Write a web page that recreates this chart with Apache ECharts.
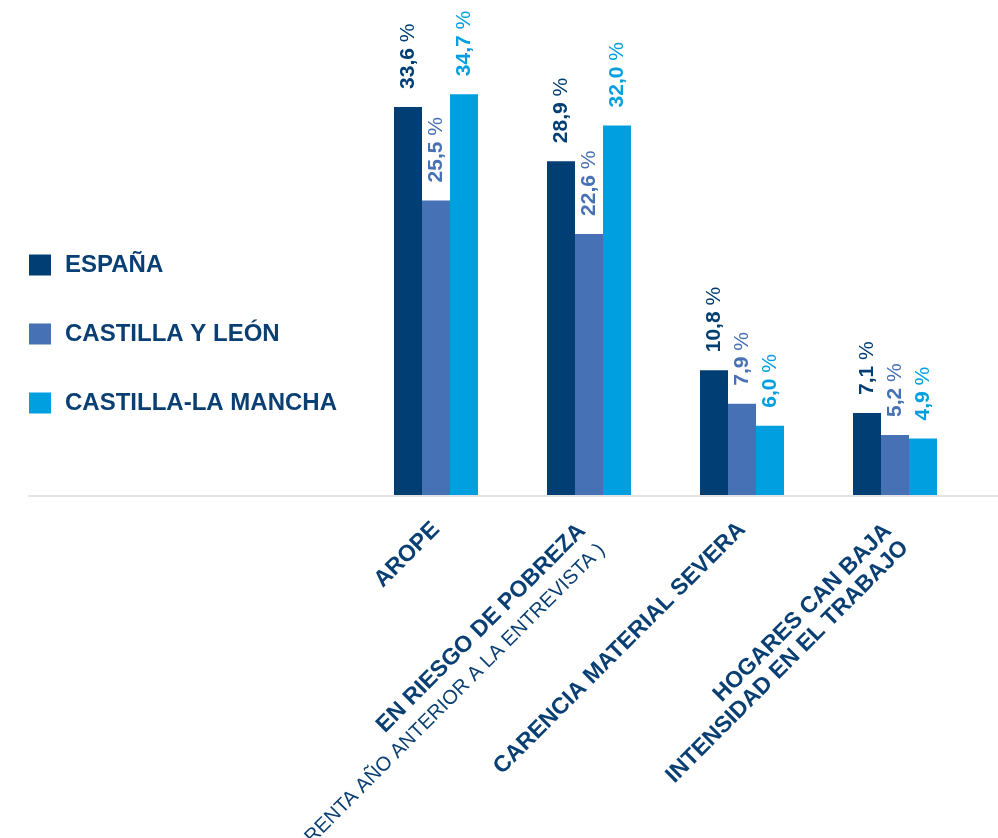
<!DOCTYPE html>
<html>
<head>
<meta charset="utf-8">
<script src="https://cdn.jsdelivr.net/npm/echarts@6/dist/echarts.min.js"></script>
<style>
html,body{margin:0;padding:0;background:#fff;}
#chart{width:998px;height:838px;}
</style>
</head>
<body>
<div id="chart"></div>
<script>
const categories = [
  'AROPE',
  'EN RIESGO DE POBREZA\n( RENTA AÑO ANTERIOR A LA ENTREVISTA )',
  'CARENCIA MATERIAL SEVERA',
  'HOGARES CAN BAJA\nINTENSIDAD EN EL TRABAJO'
];
const seriesNames = ['ESPAÑA', 'CASTILLA Y LEÓN', 'CASTILLA-LA MANCHA'];
const espana = [33.6, 28.9, 10.8, 7.1];
const castillaLeon = [25.5, 22.6, 7.9, 5.2];
const castillaMancha = [34.7, 32.0, 6.0, 4.9];
const colors = ['#003e73', '#4771b5', '#009fe0'];
const navy = '#0a3f73';
const FONT = '"Liberation Sans", Arial, Helvetica, sans-serif';

function valueLabel(color) {
  return {
    show: true,
    position: 'top',
    rotate: 90,
    align: 'left',
    verticalAlign: 'middle',
    distance: 18,
    formatter: p => '{n|' + p.value.toFixed(1).replace('.', ',') + '}{p| %}',
    rich: {
      n: { fontFamily: FONT, fontSize: 21, fontWeight: 'bold', color: color },
      p: { fontFamily: FONT, fontSize: 21, fontWeight: 'normal', color: color }
    }
  };
}

// per-label styling for multi-line category labels (first line kept where a single line sits)
const multiLineStyles = {
  1: { padding: [20, 6, 0, 0] },
  3: { padding: [16, 6, 0, 0], rich: { b: { lineHeight: 24 }, s: { lineHeight: 24 } } }
};
const categoryData = categories.map((c, i) => multiLineStyles[i]
  ? { value: c, textStyle: multiLineStyles[i] }
  : c);

const chart = echarts.init(document.getElementById('chart'), null, { renderer: 'canvas' });
chart.setOption({
  animation: false,
  color: colors,
  grid: [
    { left: 359.5, right: 26.5, top: 33, bottom: 343, outerBoundsMode: 'none', containLabel: false },
    { left: 29, right: 0, top: 33, bottom: 342, outerBoundsMode: 'none', containLabel: false }
  ],
  legend: {
    orient: 'vertical',
    left: 29,
    top: 253,
    itemWidth: 22,
    itemHeight: 21,
    itemGap: 45,
    icon: 'rect',
    padding: 0,
    data: seriesNames,
    textStyle: {
      fontFamily: FONT,
      fontSize: 24,
      fontWeight: 'bold',
      color: navy,
      padding: [0, 0, 0, 9]
    }
  },
  xAxis: [
    {
      type: 'category',
      gridIndex: 0,
      data: categoryData,
      axisLine: { show: false },
      axisTick: { show: false },
      axisLabel: {
        interval: 0,
        rotate: 45,
        margin: 31,
        formatter: function (v) {
          return v.split('\n').map(l => l.charAt(0) === '(' ? '{s|' + l + '}' : '{b|' + l + '}').join('\n');
        },
        rich: {
          b: { fontFamily: FONT, fontSize: 23, fontWeight: 'bold', color: navy, lineHeight: 28 },
          s: { fontFamily: FONT, fontSize: 20, fontWeight: 'normal', color: navy, lineHeight: 28 }
        }
      }
    },
    {
      type: 'value',
      gridIndex: 1,
      min: 0,
      max: 1,
      axisLine: { show: true, lineStyle: { color: '#e3e3e3', width: 2 } },
      axisTick: { show: false },
      axisLabel: { show: false },
      splitLine: { show: false }
    }
  ],
  yAxis: [
    { type: 'value', gridIndex: 0, min: 0, max: 40, show: false, splitLine: { show: false } },
    { type: 'value', gridIndex: 1, min: 0, max: 1, show: false, splitLine: { show: false } }
  ],
  series: [
    { name: seriesNames[0], type: 'bar', xAxisIndex: 0, yAxisIndex: 0, data: espana, barWidth: 28, barGap: '0%', z: 3, label: valueLabel(colors[0]) },
    { name: seriesNames[1], type: 'bar', xAxisIndex: 0, yAxisIndex: 0, data: castillaLeon, barWidth: 28, barGap: '0%', z: 3, label: valueLabel(colors[1]) },
    { name: seriesNames[2], type: 'bar', xAxisIndex: 0, yAxisIndex: 0, data: castillaMancha, barWidth: 28, barGap: '0%', z: 3, label: valueLabel(colors[2]) }
  ]
});
</script>
</body>
</html>
